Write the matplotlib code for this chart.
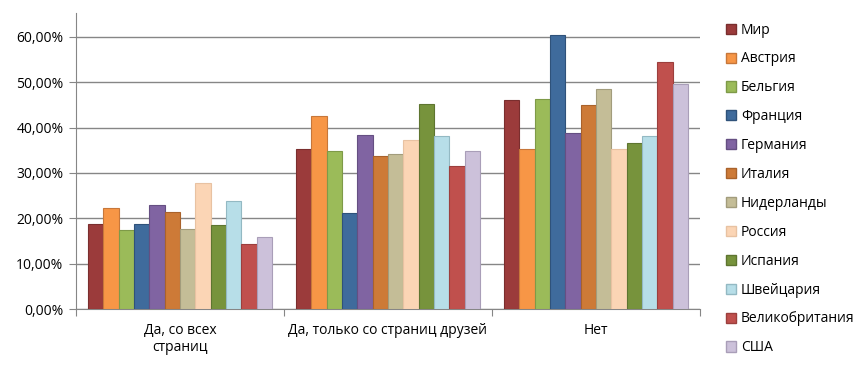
import numpy as np
import matplotlib
matplotlib.use("Agg")
import matplotlib.pyplot as plt
from matplotlib.ticker import FuncFormatter
from matplotlib.patches import Patch

plt.rcParams["font.family"] = ["Open Sans", "DejaVu Sans"]

categories = ["Да, со всех\nстраниц", "Да, только со страниц друзей", "Нет"]
countries = ["Мир", "Австрия", "Бельгия", "Франция", "Германия", "Италия",
             "Нидерланды", "Россия", "Испания", "Швейцария", "Великобритания", "США"]

# доли по странам: [со всех страниц, только друзей, нет]
mir = [0.188, 0.352, 0.461]
avstriya = [0.222, 0.425, 0.352]
belgiya = [0.175, 0.348, 0.463]
franciya = [0.188, 0.211, 0.604]
germaniya = [0.229, 0.383, 0.388]
italiya = [0.214, 0.338, 0.449]
niderlandy = [0.176, 0.341, 0.485]
rossiya = [0.278, 0.372, 0.352]
ispaniya = [0.185, 0.452, 0.366]
shveicariya = [0.238, 0.382, 0.382]
velikobritaniya = [0.143, 0.316, 0.545]
ssha = [0.159, 0.348, 0.496]

series = [mir, avstriya, belgiya, franciya, germaniya, italiya,
          niderlandy, rossiya, ispaniya, shveicariya, velikobritaniya, ssha]

colors = ["#9B3B3B", "#F79646", "#9BBB59", "#3F6B9C", "#8064A2", "#CD7A37",
          "#C4BD97", "#FBD5B5", "#77933C", "#B7DEE8", "#C0504D", "#CCC1DA"]
edges = ["#7A2E2E", "#C7773A", "#7E9A48", "#2F527A", "#654F82", "#A9622B",
         "#A29C7C", "#E8C2A2", "#5E7530", "#93B9C3", "#9C3F3D", "#A99EB8"]

fig = plt.figure(figsize=(8.58, 3.75), dpi=100)
ax = fig.add_axes([76 / 858, 1 - 309.3 / 375, (700 - 76) / 858, (309.3 - 13) / 375])

x = np.arange(len(categories))
w = 0.0739
for i, vals in enumerate(series):
    ax.bar(x - 6 * w + (i + 0.5) * w, vals, width=w, color=colors[i],
           edgecolor=edges[i], linewidth=0.8, zorder=3, label=countries[i])

ax.set_xlim(-0.5, 2.5)
ax.set_ylim(0, 0.652)
ax.set_yticks(np.arange(0, 0.61, 0.1))
ax.yaxis.set_major_formatter(FuncFormatter(lambda v, p: f"{v*100:.2f}%".replace(".", ",")))
ax.grid(axis="y", color="#868686", linewidth=1, zorder=0)

ax.set_xticks([-0.5, 0.5, 1.5, 2.5])
ax.set_xticklabels([])
ax.set_xticks(x, minor=True)
ax.set_xticklabels(categories, minor=True, fontsize=10)
ax.tick_params(axis="x", which="minor", length=0, pad=10)
ax.tick_params(axis="x", which="major", length=5, color="#868686", direction="out")
ax.tick_params(axis="y", length=5, color="#868686", labelsize=10, pad=4)

for s in ["top", "right"]:
    ax.spines[s].set_visible(False)
for s in ["left", "bottom"]:
    ax.spines[s].set_color("#868686")

handles = [Patch(facecolor=colors[i], edgecolor=edges[i], label=countries[i])
           for i in range(len(countries))]
fig.legend(handles=handles, loc="upper left", bbox_to_anchor=(720 / 858, 1 - 17 / 375),
           frameon=False, fontsize=10, handlelength=0.75, handleheight=0.75,
           handletextpad=0.35, labelspacing=1.0, borderaxespad=0)

fig.savefig("out.png", dpi=100)
